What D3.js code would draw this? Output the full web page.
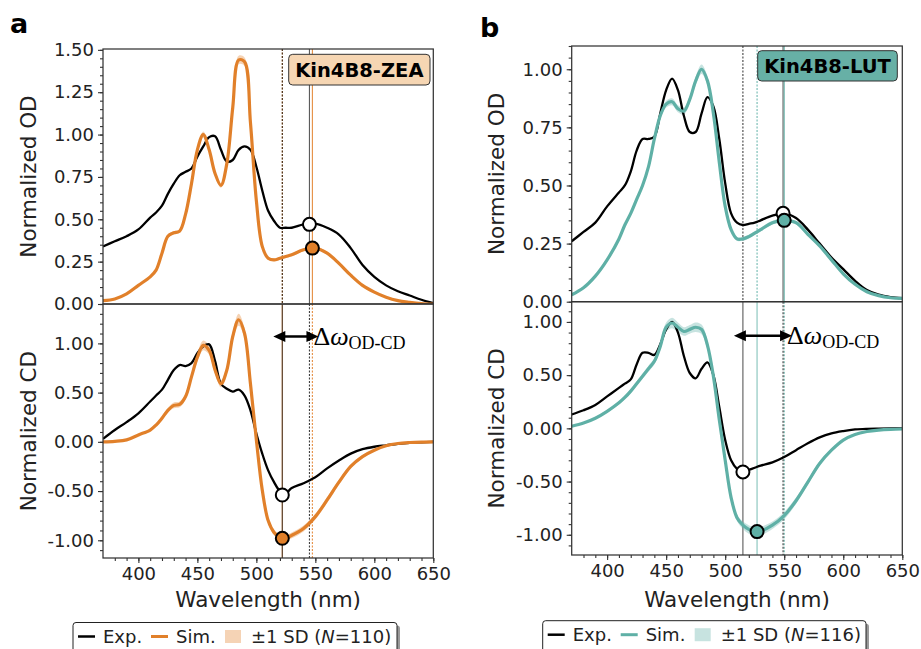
<!DOCTYPE html>
<html>
<head>
<meta charset="utf-8">
<script src="https://d3js.org/d3.v7.min.js"></script>
<style>
  body { margin: 0; background: #fff; }
  text { font-family: "DejaVu Sans", sans-serif; }
</style>
</head>
<body>
<script>
// wavelength grid (nm), shared by every curve
var wl = [370,380,390,400,410,415,420,425,430,435,440,445,450,455,460,465,470,475,480,485,490,495,500,505,510,515,520,525,530,540,550,560,570,580,590,600,610,620,630,640,650];

// panel a : Kin4B8-ZEA
var odExpA = [0.34,0.37,0.40,0.44,0.51,0.54,0.58,0.65,0.71,0.76,0.78,0.80,0.87,0.93,0.985,0.99,0.91,0.84,0.85,0.91,0.93,0.91,0.81,0.67,0.55,0.49,0.45,0.45,0.45,0.47,0.475,0.45,0.41,0.33,0.23,0.16,0.11,0.075,0.05,0.025,0.005];
var odSimA = [0.02,0.03,0.06,0.11,0.16,0.20,0.30,0.40,0.42,0.43,0.53,0.71,0.91,1.00,0.91,0.77,0.70,0.83,1.16,1.44,1.43,1.07,0.61,0.34,0.27,0.26,0.27,0.28,0.29,0.32,0.33,0.30,0.24,0.17,0.11,0.07,0.04,0.02,0.01,0.003,0.0];
var odSdA  = [0.003,0.003,0.004,0.005,0.006,0.007,0.008,0.01,0.01,0.01,0.012,0.014,0.016,0.018,0.016,0.014,0.014,0.016,0.02,0.025,0.025,0.02,0.015,0.01,0.008,0.008,0.008,0.008,0.008,0.008,0.008,0.008,0.007,0.006,0.005,0.004,0.003,0.002,0.001,0.001,0.001];
var cdExpA = [0.03,0.12,0.20,0.29,0.41,0.47,0.53,0.63,0.73,0.78,0.77,0.80,0.90,0.97,0.99,0.82,0.59,0.54,0.51,0.53,0.47,0.32,0.085,-0.12,-0.29,-0.41,-0.50,-0.52,-0.47,-0.42,-0.36,-0.27,-0.19,-0.12,-0.075,-0.05,-0.035,-0.02,-0.01,-0.005,0];
var cdSimA = [0,0.005,0.02,0.07,0.12,0.17,0.24,0.32,0.37,0.38,0.46,0.66,0.86,0.98,0.93,0.73,0.59,0.73,1.07,1.24,1.10,0.59,0.02,-0.49,-0.80,-0.92,-0.97,-0.975,-0.95,-0.88,-0.76,-0.59,-0.41,-0.25,-0.15,-0.085,-0.04,-0.017,-0.007,-0.002,0];
var cdSdA  = [0.005,0.005,0.008,0.01,0.012,0.015,0.02,0.025,0.03,0.03,0.03,0.035,0.045,0.05,0.045,0.04,0.035,0.04,0.05,0.06,0.05,0.04,0.03,0.03,0.03,0.03,0.03,0.03,0.03,0.03,0.03,0.03,0.025,0.02,0.015,0.01,0.008,0.005,0.003,0.002,0.001];

// panel b : Kin4B8-LUT
var odExpB = [0.26,0.30,0.34,0.41,0.47,0.50,0.56,0.65,0.70,0.70,0.71,0.81,0.91,0.96,0.91,0.80,0.73,0.73,0.81,0.88,0.84,0.70,0.51,0.38,0.34,0.33,0.335,0.34,0.35,0.37,0.38,0.36,0.31,0.25,0.19,0.14,0.09,0.05,0.03,0.02,0.015];
var odSimB = [0.03,0.06,0.11,0.18,0.27,0.33,0.38,0.44,0.50,0.58,0.70,0.80,0.85,0.86,0.83,0.82,0.87,0.95,1.00,0.95,0.81,0.60,0.41,0.31,0.27,0.27,0.28,0.295,0.31,0.34,0.35,0.34,0.29,0.24,0.18,0.12,0.075,0.043,0.026,0.017,0.014];
var odSdB  = [0.004,0.005,0.006,0.007,0.008,0.009,0.01,0.01,0.011,0.012,0.013,0.014,0.015,0.015,0.015,0.015,0.016,0.018,0.02,0.018,0.016,0.013,0.01,0.008,0.008,0.008,0.008,0.008,0.008,0.008,0.008,0.008,0.007,0.006,0.005,0.004,0.003,0.002,0.002,0.001,0.001];
var cdExpB = [0.13,0.17,0.22,0.30,0.38,0.42,0.46,0.60,0.71,0.71,0.69,0.79,0.93,1.00,0.90,0.68,0.52,0.47,0.56,0.62,0.50,0.20,-0.11,-0.30,-0.38,-0.41,-0.39,-0.37,-0.35,-0.32,-0.27,-0.205,-0.14,-0.085,-0.047,-0.025,-0.01,-0.004,-0.002,-0.001,0];
var cdSimB = [0.02,0.05,0.095,0.16,0.24,0.29,0.35,0.42,0.49,0.56,0.63,0.77,0.95,0.99,0.95,0.91,0.93,0.95,0.93,0.78,0.49,0.08,-0.30,-0.65,-0.84,-0.91,-0.95,-0.97,-0.965,-0.91,-0.82,-0.68,-0.505,-0.33,-0.205,-0.11,-0.057,-0.03,-0.016,-0.009,-0.006];
var cdSdB  = [0.005,0.008,0.01,0.012,0.015,0.018,0.02,0.022,0.025,0.028,0.03,0.035,0.045,0.05,0.045,0.04,0.04,0.045,0.045,0.04,0.035,0.03,0.03,0.03,0.03,0.035,0.04,0.04,0.04,0.035,0.035,0.03,0.025,0.02,0.015,0.01,0.008,0.005,0.003,0.002,0.001];

// peak / minimum positions [wavelength, value]
var odPeakExpA = [545, 0.47], odPeakSimA = [547.5, 0.33];
var cdMinExpA  = [522, -0.54], cdMinSimA = [522, -0.98];
var odPeakExpB = [549, 0.38], odPeakSimB = [550, 0.35];
var cdMinExpB  = [515, -0.41], cdMinSimB = [527, -0.97];

// ticks
var xTicks = [400, 450, 500, 550, 600, 650];
var odTicksA = [0, 0.25, 0.5, 0.75, 1.0, 1.25, 1.5];
var odTicksB = [0, 0.25, 0.5, 0.75, 1.0];
var cdTicks = [-1.0, -0.5, 0, 0.5, 1.0];

var names = ["Kin4B8-ZEA", "Kin4B8-LUT"];
var counts = [110, 116];

var W = 921, H = 649;
var svg = d3.select("body").append("svg")
  .attr("width", W).attr("height", H)
  .style("display", "block");
svg.append("rect").attr("width", W).attr("height", H).attr("fill", "#fff");

var fmt = function(d) { return d.toFixed(2); };

var panels = [
  { id: "a", left: 103, right: 433.3, top: 49, mid: 304, bottom: 558,
    odDom: [0, 1.505], cdDom: [-1.18, 1.40], odTicks: odTicksA,
    odMinor: d3.range(0, 1.52, 0.05), cdMinor: d3.range(-1.1, 1.41, 0.1),
    color: "#e1802a", boxFill: "#f6d6b3", arrowY: 1.07,
    odExp: odExpA, odSim: odSimA, odSd: odSdA, cdExp: cdExpA, cdSim: cdSimA, cdSd: cdSdA,
    odPeakExp: odPeakExpA, odPeakSim: odPeakSimA, cdMinExp: cdMinExpA, cdMinSim: cdMinSimA,
    box: [288.7, 54.3, 141.3, 30.7], letter: [10, 33],
    legend: [73, 622.5, 324] },
  { id: "b", left: 571.7, right: 902.3, top: 46, mid: 301.7, bottom: 555,
    odDom: [0, 1.10], cdDom: [-1.19, 1.19], odTicks: odTicksB,
    odMinor: d3.range(0, 1.11, 0.05), cdMinor: d3.range(-1.1, 1.11, 0.1),
    color: "#5fb0a6", boxFill: "#67b0a6", arrowY: 0.87,
    odExp: odExpB, odSim: odSimB, odSd: odSdB, cdExp: cdExpB, cdSim: cdSimB, cdSd: cdSdB,
    odPeakExp: odPeakExpB, odPeakSim: odPeakSimB, cdMinExp: cdMinExpB, cdMinSim: cdMinSimB,
    box: [757.7, 50.7, 139.6, 30.3], letter: [480, 37],
    legend: [542.7, 620.7, 323.3] }
];

panels.forEach(function(p, pi) {
  var x = d3.scaleLinear().domain([370, 650]).range([p.left, p.right]);
  var yOd = d3.scaleLinear().domain(p.odDom).range([p.mid, p.top]);
  var yCd = d3.scaleLinear().domain(p.cdDom).range([p.bottom, p.mid]);
  var g = svg.append("g");

  [["od", p.top, p.mid], ["cd", p.mid, p.bottom]].forEach(function(s) {
    svg.append("clipPath").attr("id", "clip-" + p.id + s[0])
      .append("rect").attr("x", p.left).attr("y", s[1])
      .attr("width", p.right - p.left).attr("height", s[2] - s[1]);
  });

  var curve = d3.curveCatmullRom.alpha(0.5);
  function lineFor(y, vals) {
    return d3.line().curve(curve).x(function(d, i) { return x(wl[i]); })
      .y(function(d, i) { return y(vals[i]); })(wl);
  }
  function areaFor(y, vals, sd) {
    return d3.area().curve(curve).x(function(d, i) { return x(wl[i]); })
      .y0(function(d, i) { return y(vals[i] - sd[i]); })
      .y1(function(d, i) { return y(vals[i] + sd[i]); })(wl);
  }
  function vline(gg, y, wave, col, op, dashed, w) {
    gg.append("line").attr("x1", x(wave)).attr("x2", x(wave))
      .attr("y1", y.range()[1]).attr("y2", y.range()[0])
      .attr("stroke", col).attr("stroke-opacity", op)
      .attr("stroke-width", w || 1.1)
      .attr("stroke-dasharray", dashed ? "2,1.5" : null);
  }
  function marker(gg, y, pt, fill) {
    gg.append("circle").attr("cx", x(pt[0])).attr("cy", y(pt[1])).attr("r", 6.5)
      .attr("fill", fill).attr("stroke", "#000").attr("stroke-width", 2);
  }

  // ---- OD subplot
  var od = g.append("g").attr("clip-path", "url(#clip-" + p.id + "od)");
  vline(od, yOd, p.cdMinSim[0], p.color, 0.9, true);
  vline(od, yOd, p.cdMinExp[0], "#000", 0.75, true);
  vline(od, yOd, p.odPeakExp[0], "#000", 0.65, false);
  vline(od, yOd, p.odPeakSim[0], p.color, 0.9, false);
  od.append("path").attr("d", areaFor(yOd, p.odSim, p.odSd))
    .attr("fill", p.color).attr("fill-opacity", 0.35);
  od.append("path").attr("d", lineFor(yOd, p.odExp))
    .attr("fill", "none").attr("stroke", "#000").attr("stroke-width", 2.3);
  od.append("path").attr("d", lineFor(yOd, p.odSim))
    .attr("fill", "none").attr("stroke", p.color).attr("stroke-width", 3.2);
  marker(od, yOd, p.odPeakExp, "#fff");
  marker(od, yOd, p.odPeakSim, p.color);

  // ---- CD subplot
  var cd = g.append("g").attr("clip-path", "url(#clip-" + p.id + "cd)");
  vline(cd, yCd, p.odPeakSim[0], p.color, 0.9, true);
  vline(cd, yCd, p.odPeakExp[0], "#000", 0.75, true);
  vline(cd, yCd, p.cdMinSim[0], p.color, 0.6, false, 1.4);
  vline(cd, yCd, p.cdMinExp[0], "#000", 0.65, false);
  cd.append("path").attr("d", areaFor(yCd, p.cdSim, p.cdSd))
    .attr("fill", p.color).attr("fill-opacity", 0.35);
  cd.append("path").attr("d", lineFor(yCd, p.cdExp))
    .attr("fill", "none").attr("stroke", "#000").attr("stroke-width", 2.3);
  cd.append("path").attr("d", lineFor(yCd, p.cdSim))
    .attr("fill", "none").attr("stroke", p.color).attr("stroke-width", 3.2);
  marker(cd, yCd, p.cdMinExp, "#fff");
  marker(cd, yCd, p.cdMinSim, p.color);

  // double arrow between CD minimum and OD peak
  var ay = yCd(p.arrowY);
  var ax1 = x(p.cdMinExp[0]) - 9, ax2 = x(p.odPeakExp[0]) + 9;
  g.append("line").attr("x1", ax1 + 8).attr("x2", ax2 - 8).attr("y1", ay).attr("y2", ay)
    .attr("stroke", "#000").attr("stroke-width", 2.5);
  g.append("path").attr("d", "M" + ax1 + "," + ay + "L" + (ax1 + 12) + "," + (ay - 5.5) + "L" + (ax1 + 12) + "," + (ay + 5.5) + "Z").attr("fill", "#000");
  g.append("path").attr("d", "M" + ax2 + "," + ay + "L" + (ax2 - 12) + "," + (ay - 5.5) + "L" + (ax2 - 12) + "," + (ay + 5.5) + "Z").attr("fill", "#000");
  var lab = g.append("text").attr("x", x(p.odPeakExp[0]) + 4).attr("y", ay + 8.5)
    .style("font-family", "'Liberation Serif', 'DejaVu Serif', serif").style("font-size", "26px").attr("fill", "#000");
  lab.append("tspan").text("Δ");
  lab.append("tspan").style("font-style", "italic").text("ω");
  lab.append("tspan").attr("dy", 4).style("font-size", "18px").text("OD-CD");

  // ---- axes
  function styleAxis(sel) {
    sel.select(".domain").remove();
    sel.selectAll("line").attr("stroke", "#333").attr("stroke-width", 1.1);
    sel.selectAll("text").style("font-size", "18px").attr("fill", "#222")
      .style("font-family", "'DejaVu Sans', sans-serif");
  }
  g.append("g").attr("transform", "translate(" + p.left + ",0)")
    .call(d3.axisLeft(yOd).tickValues(p.odMinor).tickSize(3).tickFormat("")).call(styleAxis);
  g.append("g").attr("transform", "translate(" + p.left + ",0)")
    .call(d3.axisLeft(yOd).tickValues(p.odTicks).tickSize(5).tickPadding(4).tickFormat(fmt)).call(styleAxis);
  g.append("g").attr("transform", "translate(" + p.left + ",0)")
    .call(d3.axisLeft(yCd).tickValues(p.cdMinor).tickSize(3).tickFormat("")).call(styleAxis);
  g.append("g").attr("transform", "translate(" + p.left + ",0)")
    .call(d3.axisLeft(yCd).tickValues(cdTicks).tickSize(5).tickPadding(4).tickFormat(fmt)).call(styleAxis);
  g.append("g").attr("transform", "translate(0," + p.bottom + ")")
    .call(d3.axisBottom(x).tickValues(d3.range(380, 651, 10)).tickSize(3).tickFormat("")).call(styleAxis);
  g.append("g").attr("transform", "translate(0," + p.bottom + ")")
    .call(d3.axisBottom(x).tickValues(xTicks).tickSize(5).tickPadding(4).tickFormat(d3.format("d"))).call(styleAxis);

  // frames
  [[p.top, p.mid], [p.mid, p.bottom]].forEach(function(s) {
    g.append("rect").attr("x", p.left).attr("y", s[0])
      .attr("width", p.right - p.left).attr("height", s[1] - s[0])
      .attr("fill", "none").attr("stroke", "#333").attr("stroke-width", 1.25);
  });

  // axis titles
  var cx = p.left - 75;
  g.append("text").attr("transform", "translate(" + cx + "," + ((p.top + p.mid) / 2) + ") rotate(-90)")
    .attr("text-anchor", "middle").attr("dy", "0.35em").style("font-size", "21.5px").attr("fill", "#222")
    .text("Normalized OD");
  g.append("text").attr("transform", "translate(" + cx + "," + ((p.mid + p.bottom) / 2) + ") rotate(-90)")
    .attr("text-anchor", "middle").attr("dy", "0.35em").style("font-size", "21.5px").attr("fill", "#222")
    .text("Normalized CD");
  g.append("text").attr("x", (p.left + p.right) / 2).attr("y", 607)
    .attr("text-anchor", "middle").style("font-size", "21.5px").attr("fill", "#222")
    .text("Wavelength (nm)");

  // name box
  g.append("rect").attr("x", p.box[0]).attr("y", p.box[1]).attr("width", p.box[2]).attr("height", p.box[3])
    .attr("rx", 4).attr("fill", p.boxFill).attr("stroke", "#333").attr("stroke-width", 1);
  g.append("text").attr("x", p.box[0] + p.box[2] / 2).attr("y", p.box[1] + p.box[3] / 2)
    .attr("dy", "0.36em").attr("text-anchor", "middle")
    .style("font-size", "19.5px").style("font-weight", "bold").attr("fill", "#000")
    .text(names[pi]);

  // panel letter
  g.append("text").attr("x", p.letter[0]).attr("y", p.letter[1])
    .style("font-size", "27px").style("font-weight", "bold").attr("fill", "#000").text(p.id);

  // legend
  var L = p.legend, lx = L[0], ly = L[1];
  g.append("rect").attr("x", lx + 3).attr("y", ly + 3).attr("width", L[2]).attr("height", 36)
    .attr("rx", 3).attr("fill", "#999");
  g.append("rect").attr("x", lx).attr("y", ly).attr("width", L[2]).attr("height", 36)
    .attr("rx", 3).attr("fill", "#fff").attr("stroke", "#222").attr("stroke-width", 1);
  var my = ly + 14;
  g.append("line").attr("x1", lx + 5).attr("x2", lx + 22).attr("y1", my).attr("y2", my)
    .attr("stroke", "#000").attr("stroke-width", 2.5);
  g.append("text").attr("x", lx + 30).attr("y", ly + 20.5).style("font-size", "18px").attr("fill", "#222").text("Exp.");
  g.append("line").attr("x1", lx + 78).attr("x2", lx + 95).attr("y1", my).attr("y2", my)
    .attr("stroke", p.color).attr("stroke-width", 3);
  g.append("text").attr("x", lx + 103).attr("y", ly + 20.5).style("font-size", "18px").attr("fill", "#222").text("Sim.");
  g.append("rect").attr("x", lx + 152).attr("y", ly + 7.5).attr("width", 16).attr("height", 13)
    .attr("fill", p.color).attr("fill-opacity", 0.35);
  var t = g.append("text").attr("x", lx + 178).attr("y", ly + 20.5).style("font-size", "18px").attr("fill", "#222");
  t.append("tspan").text("±1 SD (");
  t.append("tspan").style("font-style", "italic").text("N");
  t.append("tspan").text("=" + counts[pi] + ")");
});
</script>
</body>
</html>
